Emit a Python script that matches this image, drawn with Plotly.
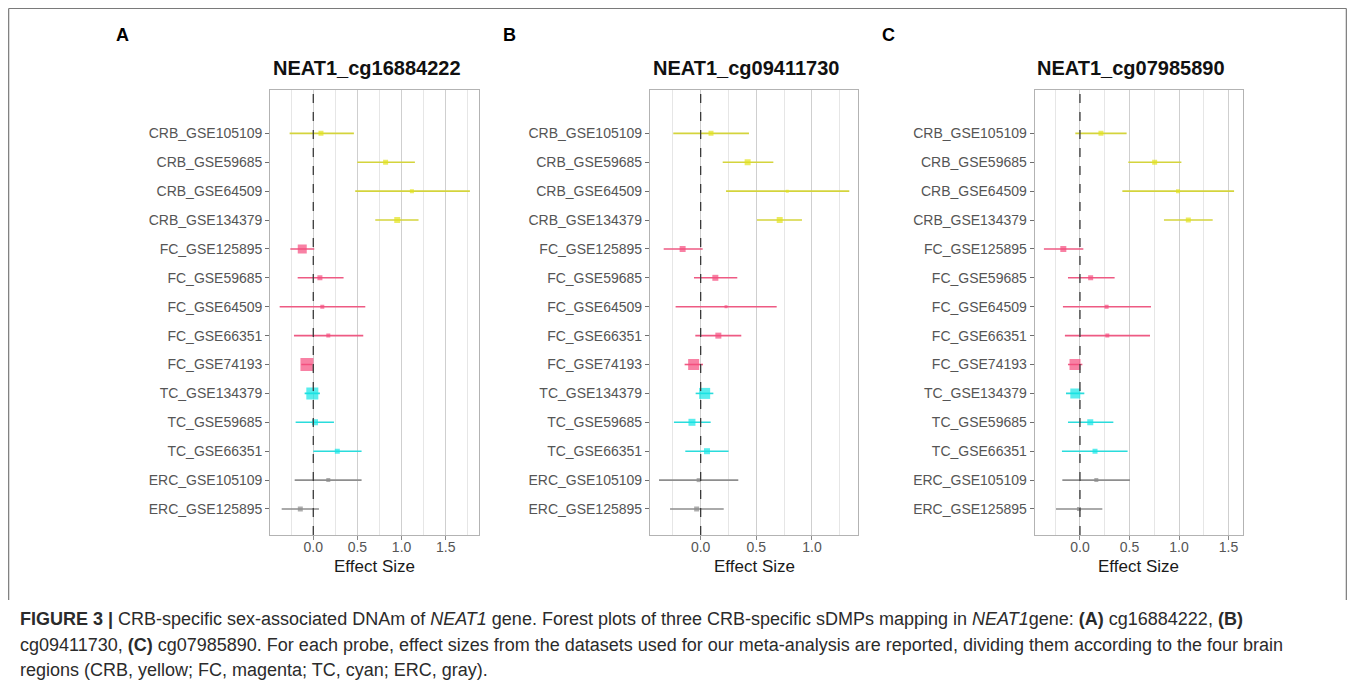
import plotly.graph_objects as go

# ---------------- data ----------------
studies = ["CRB_GSE105109", "CRB_GSE59685", "CRB_GSE64509", "CRB_GSE134379",
           "FC_GSE125895", "FC_GSE59685", "FC_GSE64509", "FC_GSE66351", "FC_GSE74193",
           "TC_GSE134379", "TC_GSE59685", "TC_GSE66351",
           "ERC_GSE105109", "ERC_GSE125895"]
regions = ["CRB", "CRB", "CRB", "CRB", "FC", "FC", "FC", "FC", "FC", "TC", "TC", "TC", "ERC", "ERC"]

probes = ["NEAT1_cg16884222", "NEAT1_cg09411730", "NEAT1_cg07985890"]
panel_letters = ["A", "B", "C"]

es_A = [0.087, 0.819, 1.117, 0.951, -0.125, 0.075, 0.102, 0.170, -0.072, -0.011, 0.019, 0.272, 0.170, -0.147]
lo_A = [-0.268, 0.498, 0.475, 0.702, -0.260, -0.177, -0.381, -0.219, -0.136, -0.098, -0.200, 0.000, -0.211, -0.358]
hi_A = [0.460, 1.151, 1.774, 1.192, 0.011, 0.343, 0.589, 0.566, -0.015, 0.075, 0.234, 0.547, 0.547, 0.064]
w_A = [5, 5, 4, 6, 9, 5, 4, 4, 13, 12, 6, 5, 4, 5]

es_B = [0.093, 0.422, 0.778, 0.710, -0.162, 0.132, 0.228, 0.159, -0.063, 0.036, -0.078, 0.057, -0.018, -0.036]
lo_B = [-0.246, 0.198, 0.228, 0.506, -0.332, -0.060, -0.225, -0.048, -0.144, -0.045, -0.240, -0.138, -0.374, -0.275]
hi_B = [0.434, 0.653, 1.335, 0.910, 0.018, 0.329, 0.683, 0.365, 0.021, 0.114, 0.090, 0.251, 0.338, 0.207]
w_B = [5, 6, 3, 6, 6, 6, 3, 6, 11, 11, 7, 6, 4, 5]

es_C = [0.212, 0.754, 0.990, 1.094, -0.168, 0.108, 0.269, 0.276, -0.050, -0.047, 0.104, 0.152, 0.165, -0.010]
lo_C = [-0.047, 0.488, 0.428, 0.848, -0.364, -0.121, -0.172, -0.152, -0.121, -0.141, -0.121, -0.182, -0.178, -0.242]
hi_C = [0.471, 1.024, 1.556, 1.340, 0.034, 0.350, 0.717, 0.707, 0.024, 0.044, 0.337, 0.481, 0.505, 0.226]
w_C = [5, 5, 4, 5, 6, 5, 4, 4, 11, 10, 6, 5, 4, 4]

x_ticks = [0.0, 0.5, 1.0, 1.5]
x_ranges = [[-0.487, 1.877], [-0.455, 1.416], [-0.457, 1.643]]

region_colors = {"CRB": "#E3E31C", "FC": "#F54C7E", "TC": "#12E6E6", "ERC": "#8C8C8C"}
line_colors = {"CRB": "#D4D43C", "FC": "#EE5A83", "TC": "#2ADCDC", "ERC": "#8E8E8E"}

panels = [(es_A, lo_A, hi_A, w_A), (es_B, lo_B, hi_B, w_B), (es_C, lo_C, hi_C, w_C)]

# ---------------- layout geometry ----------------
# page has an 8px body margin; the figure itself is sized to fit inside it
OFF = 8
W, H = 1339, 673


def px(xp):
    return (xp - OFF) / W


def py(yp):
    return 1 - (yp - OFF) / H


x_domains = [[px(270.3), px(479.0)], [px(650.0), px(858.3)], [px(1034.7), px(1242.7)]]
y_domain = [py(535), py(90)]
order = list(reversed(studies))  # bottom to top

fig = go.Figure()
annotations = []
shapes = []

for p, (es, lo, hi, w) in enumerate(panels):
    xa = "x" if p == 0 else f"x{p + 1}"
    ya = "y" if p == 0 else f"y{p + 1}"
    for reg in ["CRB", "FC", "TC", "ERC"]:
        idx = [i for i, r in enumerate(regions) if r == reg]
        lx, ly = [], []
        for i in idx:
            lx += [lo[i], hi[i], None]
            ly += [studies[i], studies[i], None]
        fig.add_trace(go.Scatter(x=lx, y=ly, mode="lines", xaxis=xa, yaxis=ya,
                                 line=dict(color=line_colors[reg], width=1.6),
                                 showlegend=False, hoverinfo="skip"))
        fig.add_trace(go.Scatter(x=[es[i] for i in idx], y=[studies[i] for i in idx],
                                 mode="markers", xaxis=xa, yaxis=ya,
                                 marker=dict(symbol="square", color=region_colors[reg],
                                             size=[w[i] for i in idx], line=dict(width=0)),
                                 showlegend=False))
    axkey = "xaxis" if p == 0 else f"xaxis{p + 1}"
    aykey = "yaxis" if p == 0 else f"yaxis{p + 1}"
    fig.layout[axkey] = dict(
        domain=x_domains[p], range=x_ranges[p], anchor=ya,
        tickvals=x_ticks, ticktext=[f"{t:.1f}" for t in x_ticks],
        showgrid=True, gridcolor="#CFCFCF", gridwidth=1.3, zeroline=False,
        minor=dict(dtick=0.25, showgrid=True, gridcolor="#E6E6E6", gridwidth=1, ticklen=0),
        ticks="outside", ticklen=4, tickwidth=1, tickcolor="#8A8A8A",
        ticklabelstandoff=-5,
        showline=True, linecolor="#B3B3B3", linewidth=1.2, mirror=True,
        tickfont=dict(family="Liberation Sans, Arial", size=14, color="#555555"),
    )
    fig.layout[aykey] = dict(
        domain=y_domain, anchor=xa, type="category", categoryorder="array",
        categoryarray=order, range=[-0.9, 14.5],
        showgrid=False, zeroline=False,
        ticks="outside", ticklen=4, tickwidth=1.2, tickcolor="#6E6E6E",
        showline=True, linecolor="#B3B3B3", linewidth=1.2, mirror=True,
        tickfont=dict(family="Liberation Sans, Arial", size=14, color="#555555"),
    )
    # dashed reference at zero
    shapes.append(dict(type="line", xref=xa, yref=f"{ya} domain", x0=0, x1=0, y0=0, y1=1,
                       line=dict(color="#3A3A3A", width=1.3, dash="dash")))
    cx = (x_domains[p][0] + x_domains[p][1]) / 2
    annotations.append(dict(text=f"<b>{probes[p]}</b>", x=cx - 8 / W, y=py(68),
                            xref="paper", yref="paper", showarrow=False,
                            xanchor="center", yanchor="middle",
                            font=dict(family="Liberation Sans, Arial", size=20, color="#111111")))
    annotations.append(dict(text="Effect Size", x=cx, y=py(566),
                            xref="paper", yref="paper", showarrow=False,
                            xanchor="center", yanchor="middle",
                            font=dict(family="Liberation Sans, Arial", size=17, color="#1A1A1A")))

letter_x = [122.7, 509.0, 888.3]
for p in range(3):
    annotations.append(dict(text=f"<b>{panel_letters[p]}</b>", x=px(letter_x[p]), y=py(35),
                            xref="paper", yref="paper", showarrow=False,
                            xanchor="center", yanchor="middle",
                            font=dict(family="Liberation Sans, Arial", size=18, color="#000000")))

caption_lines = [
    "<b>FIGURE 3 |</b> CRB-specific sex-associated DNAm of <i>NEAT1</i> gene. Forest plots of three CRB-specific sDMPs mapping in <i>NEAT1</i>gene: <b>(A)</b> cg16884222, <b>(B)</b>",
    "cg09411730, <b>(C)</b> cg07985890. For each probe, effect sizes from the datasets used for our meta-analysis are reported, dividing them according to the four brain",
    "regions (CRB, yellow; FC, magenta; TC, cyan; ERC, gray).",
]
cap_y = [619, 645, 670]
for t, yy in zip(caption_lines, cap_y):
    annotations.append(dict(text=t, x=px(18), y=py(yy), xref="paper", yref="paper",
                            showarrow=False, xanchor="left", yanchor="middle",
                            font=dict(family="Liberation Sans, Arial", size=18, color="#2B2B2B")))

# figure frame
frame_col = "#7A7A7A"
shapes.append(dict(type="line", xref="paper", yref="paper", x0=0.0005, x1=0.9995,
                   y0=0.9993, y1=0.9993, line=dict(color=frame_col, width=1.2)))
shapes.append(dict(type="line", xref="paper", yref="paper", x0=0.0005, x1=0.0005,
                   y0=0.9993, y1=py(600), line=dict(color=frame_col, width=1.2)))
shapes.append(dict(type="line", xref="paper", yref="paper", x0=0.9995, x1=0.9995,
                   y0=0.9993, y1=py(600), line=dict(color=frame_col, width=1.2)))

fig.update_layout(width=W, height=H, margin=dict(l=0, r=0, t=0, b=0),
                  paper_bgcolor="white", plot_bgcolor="white",
                  annotations=annotations, shapes=shapes, showlegend=False)

fig.write_html("out.html")
